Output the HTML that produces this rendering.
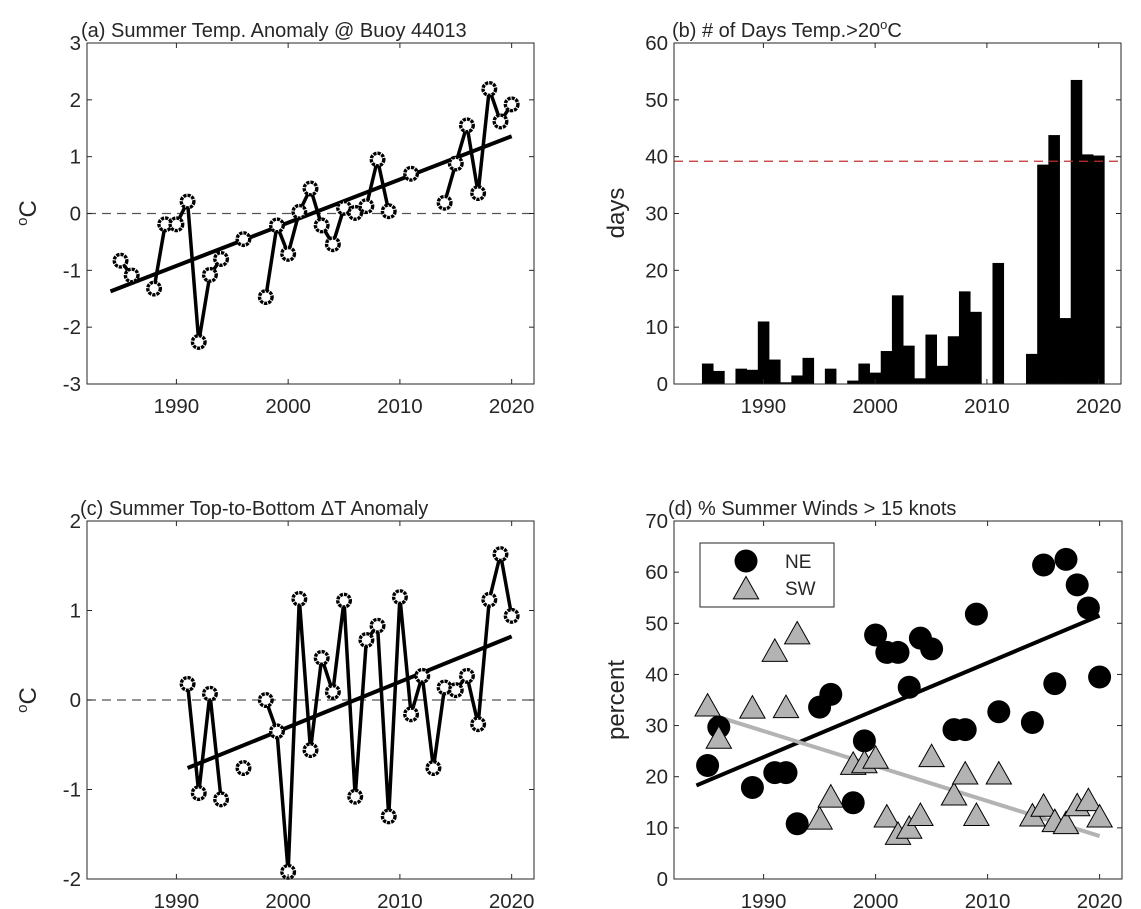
<!DOCTYPE html>
<html><head><meta charset="utf-8"><style>
html,body{margin:0;padding:0;background:#fff}
svg{display:block}
text{font-family:"Liberation Sans",Arial,sans-serif;fill:#262626}
</style></head><body>
<svg id="fig" width="1141" height="909" viewBox="0 0 1141 909" xmlns="http://www.w3.org/2000/svg"></svg>
<script>
// ---- data ----
const yearsA=[1985,1986,1988,1989,1990,1991,1992,1993,1994,1996,1998,1999,2000,2001,2002,2003,2004,2005,2006,2007,2008,2009,2011,2014,2015,2016,2017,2018,2019,2020];
const tempA=[-0.83,-1.09,-1.32,-0.19,-0.19,0.21,-2.26,-1.08,-0.80,-0.45,-1.47,-0.21,-0.71,0.03,0.44,-0.21,-0.54,0.10,0.01,0.13,0.95,0.04,0.70,0.19,0.88,1.55,0.36,2.19,1.62,1.92];
const trendAYears=[1984.1,2020];
const trendAVals=[-1.37,1.36];

const yearsB=[1985,1986,1988,1989,1990,1991,1992,1993,1994,1996,1998,1999,2000,2001,2002,2003,2004,2005,2006,2007,2008,2009,2011,2014,2015,2016,2017,2018,2019,2020];
const daysB=[3.6,2.3,2.7,2.5,11.0,4.3,0.3,1.5,4.6,2.7,0.6,3.6,2.0,5.8,15.6,6.75,1.0,8.7,3.2,8.4,16.3,12.7,21.3,5.3,38.6,43.8,11.6,53.5,40.4,40.2];
const refLineB=39.2;

const yearsC=[1991,1992,1993,1994,1996,1998,1999,2000,2001,2002,2003,2004,2005,2006,2007,2008,2009,2010,2011,2012,2013,2014,2015,2016,2017,2018,2019,2020];
const dTC=[0.18,-1.04,0.07,-1.11,-0.76,0.0,-0.35,-1.92,1.13,-0.56,0.47,0.09,1.11,-1.08,0.67,0.83,-1.30,1.15,-0.16,0.27,-0.76,0.14,0.11,0.27,-0.27,1.12,1.63,0.94];
const trendCYears=[1991,2020];
const trendCVals=[-0.76,0.71];

const yearsNE=[1985,1986,1989,1991,1992,1993,1995,1996,1998,1999,2000,2001,2002,2003,2004,2005,2007,2008,2009,2011,2014,2015,2016,2017,2018,2019,2020];
const valsNE=[22.2,29.7,17.9,20.8,20.8,10.8,33.6,36.1,14.9,27.0,47.7,44.3,44.3,37.5,47.1,45.0,29.2,29.2,51.8,32.7,30.6,61.4,38.2,62.5,57.5,53.0,39.5];
const yearsSW=[1985,1986,1989,1991,1992,1993,1995,1996,1998,1999,2000,2001,2002,2003,2004,2005,2007,2008,2009,2011,2014,2015,2016,2017,2018,2019,2020];
const valsSW=[34.0,27.7,33.6,44.7,33.7,48.1,11.9,16.2,22.6,22.9,23.8,12.3,8.9,10.1,12.6,24.1,16.6,20.7,12.6,20.7,12.5,14.4,11.4,11.0,14.5,15.5,12.3];
const trendNEYears=[1984,2020];
const trendNEVals=[18.3,51.5];
const trendSWYears=[1985.5,2020];
const trendSWVals=[32.0,8.4];

const xTicks=[1990,2000,2010,2020];
const yTicksA=[-3,-2,-1,0,1,2,3];
const yTicksB=[0,10,20,30,40,50,60];
const yTicksC=[-2,-1,0,1,2];
const yTicksD=[0,10,20,30,40,50,60,70];

// ---- helpers ----
const NS='http://www.w3.org/2000/svg';
const svg=document.getElementById('fig');
function mk(tag,attrs,parent){const e=document.createElementNS(NS,tag);for(const k in attrs)e.setAttribute(k,attrs[k]);(parent||svg).appendChild(e);return e;}
function axes(name,L,T,W,H,ymin,ymax,yt){
  const g=mk('g',{});
  
  
  const sx=y=>L+(y-1982)/40*W;
  const sy=v=>T+H-(v-ymin)/(ymax-ymin)*H;
  return {g,sx,sy,L,T,W,H,yt};
}
function frame(a){
  const {g,L,T,W,H,sx,sy,yt}=a;
  const r=mk('rect',{x:L,y:T,width:W,height:H,fill:'none',stroke:'#262626','stroke-width':1},g);
  
  
  xTicks.forEach(t=>{
    const x=sx(t);
    mk('line',{x1:x,y1:T+H,x2:x,y2:T+H-5,stroke:'#262626'},g);
    mk('line',{x1:x,y1:T,x2:x,y2:T+5,stroke:'#262626'},g);
    const tx=mk('text',{x:x,y:T+H+29,'text-anchor':'middle','font-size':20.5},g);
    tx.textContent=t;
    
    
  });
  yt.forEach(t=>{
    const y=sy(t);
    mk('line',{x1:L,y1:y,x2:L+5,y2:y,stroke:'#262626'},g);
    mk('line',{x1:L+W,y1:y,x2:L+W-5,y2:y,stroke:'#262626'},g);
    const tx=mk('text',{x:L-6,y:y+7,'text-anchor':'end','font-size':20.5},g);
    tx.textContent=t;
    
    
  });
}
function title(a,x,y,html,name){
  const t=mk('text',{x:x,y:y,'font-size':20},a.g);
  t.innerHTML=html;
  
  
}
function ylabel(x,y,html,name){
  const t=mk('text',{x:0,y:0,'font-size':24,'text-anchor':'middle',transform:`translate(${x},${y}) rotate(-90)`});
  t.innerHTML=html;
  
  
}
function segLines(a,yrs,vals){
  let d='';
  for(let i=0;i<yrs.length;i++){
    const x=a.sx(yrs[i]),y=a.sy(vals[i]);
    if(i>0&&yrs[i]-yrs[i-1]===1)d+=` L${x},${y}`;else d+=` M${x},${y}`;
  }
  const p=mk('path',{d:d,fill:'none',stroke:'#000','stroke-width':3.5,'stroke-linejoin':'round'},a.g);
  
  
}
function trend(a,yrs,vals,color,name){
  const l=mk('line',{x1:a.sx(yrs[0]),y1:a.sy(vals[0]),x2:a.sx(yrs[1]),y2:a.sy(vals[1]),stroke:color,'stroke-width':4},a.g);
  
  
}
function ringMarkers(a,yrs,vals){
  yrs.forEach((yr,i)=>{
    const c=mk('circle',{cx:a.sx(yr),cy:a.sy(vals[i]),r:6.3,fill:'#fff',stroke:'#000','stroke-width':3.4,'stroke-dasharray':'3.2 1'},a.g);
    
    
  });
}
function zeroLine(a,v,color){
  const l=mk('line',{x1:a.L,y1:a.sy(v),x2:a.L+a.W,y2:a.sy(v),stroke:color,'stroke-width':1.3,'stroke-dasharray':'9 6'},a.g);
  
  
}
function tri(a,cx,cy,parent){
  const s=11.5;
  return mk('polygon',{points:`${cx},${cy-s} ${cx-s*1.1},${cy+s*0.95} ${cx+s*1.1},${cy+s*0.95}`,fill:'#b3b3b3',stroke:'#000','stroke-width':1},parent);
}

// ---- panel a ----
const A=axes('panel-a',87,43,447,341,-3,3,yTicksA);
zeroLine(A,0,'#555');
segLines(A,yearsA,tempA);
trend(A,trendAYears,trendAVals,'#000','trend-line-a');
ringMarkers(A,yearsA,tempA);
frame(A);
title(A,81,37,'(a) Summer Temp. Anomaly @ Buoy 44013','title-a');
ylabel(36,213,'<tspan font-size="15" dy="-9">o</tspan><tspan dy="9">C</tspan>','y-axis-title-a');

// ---- panel b ----
const B=axes('panel-b',674,43,447,341,0,60,yTicksB);
yearsB.forEach((yr,i)=>{
  const x0=B.sx(yr-0.5),x1=B.sx(yr+0.5),y=B.sy(daysB[i]);
  const r=mk('rect',{x:x0,y:y,width:x1-x0+0.4,height:B.sy(0)-y,fill:'#000'},B.g);
  
  
});
zeroLine(B,refLineB,'#c0302b');
frame(B);
title(B,672,37,'(b) # of Days Temp.&gt;20<tspan font-size="13" dy="-8">o</tspan><tspan dy="8">C</tspan>','title-b');
ylabel(624,213,'days','y-axis-title-b');

// ---- panel c ----
const C=axes('panel-c',87,521,447,358,-2,2,yTicksC);
zeroLine(C,0,'#555');
segLines(C,yearsC,dTC);
trend(C,trendCYears,trendCVals,'#000','trend-line-c');
ringMarkers(C,yearsC,dTC);
frame(C);
title(C,80,515,'(c) Summer Top-to-Bottom ΔT Anomaly','title-c');
ylabel(36,700,'<tspan font-size="15" dy="-9">o</tspan><tspan dy="9">C</tspan>','y-axis-title-c');

// ---- panel d ----
const D=axes('panel-d',674,521,448,358,0,70,yTicksD);
trend(D,trendNEYears,trendNEVals,'#000','trend-line-ne');
trend(D,trendSWYears,trendSWVals,'#b3b3b3','trend-line-sw');
yearsNE.forEach((yr,i)=>{
  const c=mk('circle',{cx:D.sx(yr),cy:D.sy(valsNE[i]),r:11.5,fill:'#000'},D.g);
  
  
});
yearsSW.forEach((yr,i)=>{
  const t=tri(D,D.sx(yr),D.sy(valsSW[i]),D.g);
  
  
});
frame(D);
title(D,668,515,'(d) % Summer Winds &gt; 15 knots','title-d');
ylabel(624,700,'percent','y-axis-title-d');
// legend
const lg=mk('g',{});


mk('rect',{x:700,y:543,width:134,height:64,fill:'#fff',stroke:'#262626'},lg);
const l1=mk('circle',{cx:746,cy:561,r:11.5,fill:'#000'},lg);


const l2=tri(D,746,588,lg);


const t1=mk('text',{x:785,y:568,'font-size':19},lg);t1.textContent='NE';


const t2=mk('text',{x:785,y:595,'font-size':19},lg);t2.textContent='SW';


</script>
</body></html>
